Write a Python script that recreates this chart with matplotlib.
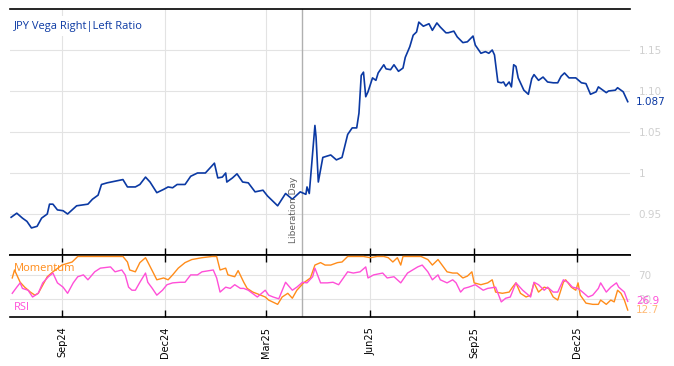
import matplotlib
matplotlib.use("Agg")
import matplotlib.pyplot as plt
import matplotlib.dates as mdates
import pandas as pd

# Main series: JPY vega right|left ratio
ratio_dates = [
    "2024-07-18", "2024-07-23", "2024-07-28", "2024-08-01", "2024-08-05", "2024-08-10",
    "2024-08-14", "2024-08-19", "2024-08-21", "2024-08-24", "2024-08-28", "2024-09-02",
    "2024-09-06", "2024-09-14", "2024-09-24", "2024-09-28", "2024-10-03", "2024-10-06",
    "2024-10-11", "2024-10-18", "2024-10-25", "2024-10-29", "2024-11-05", "2024-11-09",
    "2024-11-14", "2024-11-18", "2024-11-24", "2024-11-30", "2024-12-04", "2024-12-08",
    "2024-12-12", "2024-12-19", "2024-12-24", "2024-12-30", "2025-01-06", "2025-01-10",
    "2025-01-14", "2025-01-17", "2025-01-21", "2025-01-24", "2025-01-25", "2025-01-30",
    "2025-02-03", "2025-02-08", "2025-02-13", "2025-02-19", "2025-02-26", "2025-03-02",
    "2025-03-11", "2025-03-18", "2025-03-24", "2025-03-31", "2025-04-05", "2025-04-06",
    "2025-04-08", "2025-04-13", "2025-04-14", "2025-04-16", "2025-04-20", "2025-04-27",
    "2025-05-02", "2025-05-07", "2025-05-12", "2025-05-16", "2025-05-20", "2025-05-22",
    "2025-05-24", "2025-05-26", "2025-05-28", "2025-05-30", "2025-06-03", "2025-06-06",
    "2025-06-08", "2025-06-13", "2025-06-15", "2025-06-19", "2025-06-22", "2025-06-26",
    "2025-06-30", "2025-07-02", "2025-07-06", "2025-07-09", "2025-07-12", "2025-07-14",
    "2025-07-18", "2025-07-23", "2025-07-26", "2025-07-30", "2025-08-02", "2025-08-07",
    "2025-08-09", "2025-08-14", "2025-08-17", "2025-08-22", "2025-08-26", "2025-08-31",
    "2025-09-02", "2025-09-07", "2025-09-11", "2025-09-14", "2025-09-17", "2025-09-19",
    "2025-09-22", "2025-09-25", "2025-09-27", "2025-09-29", "2025-10-02", "2025-10-04",
    "2025-10-06", "2025-10-08", "2025-10-10", "2025-10-12", "2025-10-15", "2025-10-19",
    "2025-10-22", "2025-10-24", "2025-10-28", "2025-11-01", "2025-11-05", "2025-11-10",
    "2025-11-14", "2025-11-17", "2025-11-20", "2025-11-24", "2025-11-30", "2025-12-05",
    "2025-12-09", "2025-12-13", "2025-12-18", "2025-12-20", "2025-12-27", "2025-12-29",
    "2026-01-04", "2026-01-06", "2026-01-11", "2026-01-15",
]
ratio_values = [
    0.946, 0.951, 0.945, 0.941, 0.933, 0.935,
    0.945, 0.950, 0.962, 0.962, 0.955, 0.954,
    0.950, 0.960, 0.962, 0.968, 0.973, 0.986,
    0.988, 0.990, 0.992, 0.983, 0.983, 0.986,
    0.995, 0.989, 0.976, 0.980, 0.983, 0.982,
    0.986, 0.986, 0.996, 1.000, 1.000, 1.006,
    1.012, 0.994, 0.995, 1.000, 0.989, 0.994,
    0.999, 0.989, 0.988, 0.977, 0.979, 0.972,
    0.960, 0.975, 0.968, 0.977, 0.974, 0.983,
    0.975, 1.058, 1.044, 0.989, 1.019, 1.022,
    1.016, 1.019, 1.047, 1.055, 1.055, 1.073,
    1.119, 1.123, 1.093, 1.099, 1.116, 1.113,
    1.122, 1.132, 1.127, 1.126, 1.132, 1.124,
    1.128, 1.141, 1.154, 1.168, 1.172, 1.184,
    1.179, 1.182, 1.174, 1.183, 1.178, 1.171,
    1.171, 1.173, 1.166, 1.159, 1.160, 1.167,
    1.156, 1.146, 1.148, 1.146, 1.150, 1.144,
    1.111, 1.110, 1.111, 1.106, 1.111, 1.105,
    1.132, 1.130, 1.116, 1.110, 1.101, 1.096,
    1.115, 1.120, 1.113, 1.117, 1.111, 1.110,
    1.110, 1.118, 1.122, 1.116, 1.116, 1.110,
    1.109, 1.096, 1.099, 1.105, 1.098, 1.100,
    1.101, 1.104, 1.099, 1.087,
]

# Momentum (0-100)
mom_dates = [
    "2024-07-19", "2024-07-21", "2024-07-26", "2024-07-30", "2024-08-04", "2024-08-08",
    "2024-08-11", "2024-08-14", "2024-08-19", "2024-08-24", "2024-09-01", "2024-09-10",
    "2024-09-15", "2024-09-24", "2024-10-09", "2024-10-25", "2024-10-29", "2024-10-31",
    "2024-11-05", "2024-11-09", "2024-11-14", "2024-11-16", "2024-11-21", "2024-11-24",
    "2024-11-30", "2024-12-04", "2024-12-08", "2024-12-13", "2024-12-19", "2024-12-25",
    "2025-01-03", "2025-01-12", "2025-01-16", "2025-01-19", "2025-01-24", "2025-01-26",
    "2025-02-01", "2025-02-04", "2025-02-09", "2025-02-12", "2025-02-17", "2025-02-24",
    "2025-02-28", "2025-03-03", "2025-03-11", "2025-03-15", "2025-03-20", "2025-03-24",
    "2025-03-28", "2025-04-03", "2025-04-09", "2025-04-13", "2025-04-18", "2025-04-22",
    "2025-04-27", "2025-05-03", "2025-05-07", "2025-05-12", "2025-05-21", "2025-05-26",
    "2025-06-01", "2025-06-07", "2025-06-13", "2025-06-17", "2025-06-21", "2025-06-25",
    "2025-06-28", "2025-06-30", "2025-07-16", "2025-07-22", "2025-07-26", "2025-07-31",
    "2025-08-02", "2025-08-08", "2025-08-13", "2025-08-17", "2025-08-22", "2025-08-26",
    "2025-08-30", "2025-09-01", "2025-09-07", "2025-09-13", "2025-09-17", "2025-09-20",
    "2025-09-26", "2025-10-02", "2025-10-05", "2025-10-08", "2025-10-12", "2025-10-17",
    "2025-10-21", "2025-10-24", "2025-10-28", "2025-11-02", "2025-11-06", "2025-11-10",
    "2025-11-14", "2025-11-19", "2025-11-21", "2025-11-26", "2025-11-30", "2025-12-02",
    "2025-12-04", "2025-12-09", "2025-12-15", "2025-12-20", "2025-12-22", "2025-12-27",
    "2025-12-31", "2026-01-03", "2026-01-06", "2026-01-09", "2026-01-12", "2026-01-15",
]
mom_values = [
    65, 78, 58, 50, 42, 37,
    40, 50, 67, 75, 86, 91,
    100, 100, 100, 100, 91, 78,
    75, 90, 98, 91, 73, 62,
    65, 62, 70, 81, 90, 95,
    98, 100, 100, 78, 81, 70,
    67, 77, 58, 48, 42, 37,
    34, 29, 22, 34, 40, 32,
    45, 57, 65, 86, 90, 86,
    86, 90, 91, 100, 100, 100,
    98, 100, 100, 98, 91, 98,
    86, 100, 100, 95, 86, 95,
    90, 75, 73, 73, 65, 68,
    75, 57, 54, 57, 62, 42,
    40, 42, 50, 57, 40, 34,
    37, 57, 42, 50, 48, 34,
    29, 58, 62, 50, 45, 57,
    37, 24, 22, 22, 29, 22,
    29, 26, 45, 40, 29, 12.7,
]

# RSI (0-100)
rsi_dates = [
    "2024-07-19", "2024-07-23", "2024-07-26", "2024-07-28", "2024-08-02", "2024-08-06",
    "2024-08-11", "2024-08-15", "2024-08-20", "2024-08-24", "2024-08-28", "2024-09-02",
    "2024-09-06", "2024-09-11", "2024-09-15", "2024-09-20", "2024-09-24", "2024-09-30",
    "2024-10-05", "2024-10-14", "2024-10-18", "2024-10-24", "2024-10-27", "2024-10-30",
    "2024-11-02", "2024-11-05", "2024-11-09", "2024-11-14", "2024-11-16", "2024-11-20",
    "2024-11-24", "2024-11-29", "2024-12-03", "2024-12-08", "2024-12-15", "2024-12-19",
    "2024-12-24", "2024-12-30", "2025-01-03", "2025-01-13", "2025-01-16", "2025-01-19",
    "2025-01-24", "2025-01-28", "2025-02-01", "2025-02-06", "2025-02-09", "2025-02-13",
    "2025-02-21", "2025-02-28", "2025-03-03", "2025-03-07", "2025-03-12", "2025-03-18",
    "2025-03-24", "2025-03-28", "2025-04-02", "2025-04-06", "2025-04-11", "2025-04-13",
    "2025-04-18", "2025-04-24", "2025-04-29", "2025-05-04", "2025-05-12", "2025-05-17",
    "2025-05-23", "2025-05-28", "2025-05-30", "2025-06-04", "2025-06-12", "2025-06-16",
    "2025-06-22", "2025-06-28", "2025-07-04", "2025-07-13", "2025-07-17", "2025-07-22",
    "2025-07-26", "2025-07-31", "2025-08-02", "2025-08-08", "2025-08-13", "2025-08-16",
    "2025-08-20", "2025-08-23", "2025-08-27", "2025-09-02", "2025-09-09", "2025-09-13",
    "2025-09-20", "2025-09-25", "2025-09-29", "2025-10-03", "2025-10-08", "2025-10-14",
    "2025-10-21", "2025-10-24", "2025-10-28", "2025-11-02", "2025-11-05", "2025-11-10",
    "2025-11-14", "2025-11-19", "2025-11-23", "2025-11-27", "2025-12-02", "2025-12-06",
    "2025-12-11", "2025-12-15", "2025-12-20", "2025-12-22", "2025-12-27", "2025-12-31",
    "2026-01-05", "2026-01-07", "2026-01-12", "2026-01-15",
]
rsi_values = [
    40, 50, 57, 48, 45, 34,
    40, 57, 67, 73, 57, 50,
    40, 57, 67, 70, 62, 75,
    81, 83, 75, 78, 70, 50,
    45, 45, 58, 73, 58, 48,
    37, 45, 54, 57, 58, 58,
    70, 70, 75, 78, 65, 42,
    50, 48, 54, 48, 48, 45,
    34, 45, 37, 34, 31, 58,
    45, 50, 58, 57, 67, 81,
    57, 57, 58, 54, 75, 73,
    75, 83, 65, 70, 73, 65,
    67, 57, 73, 83, 86, 75,
    62, 70, 62, 57, 62, 57,
    42, 48, 50, 54, 45, 48,
    50, 26, 32, 34, 57, 45,
    34, 58, 54, 45, 50, 42,
    42, 62, 58, 50, 48, 42,
    34, 37, 48, 57, 42, 50,
    57, 50, 42, 26.9,
]

ratio_ticks = [0.95, 1.0, 1.05, 1.10, 1.15]
ratio_tick_labels = ["0.95", "1", "1.05", "1.10", "1.15"]
osc_ticks = [30, 70]
event_date = "2025-04-02"
event_label = "Liberation Day"
title = "JPY Vega Right|Left Ratio"

BLUE = "#0b39a3"
ORANGE = "#ff8c1a"
PINK = "#ff4fd8"
GRID = "#e3e3e3"
LABEL_GREY = "#cfcfcf"

rd = pd.to_datetime(ratio_dates)
md = pd.to_datetime(mom_dates)
sd = pd.to_datetime(rsi_dates)
ev = pd.Timestamp(event_date)
xlim = (pd.Timestamp("2024-07-17"), pd.Timestamp("2026-01-17"))

fig = plt.figure(figsize=(6.74, 3.66), dpi=100)
ax = fig.add_axes([10 / 674, 1 - 255 / 366, 620 / 674, 246 / 366])
ax2 = fig.add_axes([10 / 674, 1 - 317 / 366, 620 / 674, 62 / 366], sharex=ax)

# main panel
ax.plot(rd, ratio_values, color=BLUE, lw=1.2, zorder=3)
ax.set_ylim(0.90, 1.20)
ax.set_xlim(*xlim)
ax.set_yticks(ratio_ticks)
ax.set_yticklabels(ratio_tick_labels)
ax.yaxis.tick_right()
ax.tick_params(axis="y", length=0, labelsize=7.5, labelcolor=LABEL_GREY, pad=6)
ax.tick_params(axis="x", direction="in", length=5, width=1, labelbottom=False,
               color="black")
ax.grid(True, color=GRID, lw=0.8)
for s in ["left", "right"]:
    ax.spines[s].set_visible(False)
ax.spines["top"].set_linewidth(1.2)
ax.spines["bottom"].set_linewidth(1.2)

ax.text(0.006, 0.93, title, transform=ax.transAxes, color=BLUE, fontsize=8,
        family="Open Sans", va="center", ha="left", zorder=5,
        bbox=dict(facecolor="white", edgecolor="none", pad=3))
ax.text(1.01, ratio_values[-1], f"{ratio_values[-1]:.3f}", transform=ax.get_yaxis_transform(),
        color=BLUE, fontsize=7.5, va="center", ha="left")

ax.axvline(ev, color="#b0b0b0", lw=1, zorder=2)
ax.text(ev - pd.Timedelta(days=8), 0.915, event_label, rotation=90, fontsize=6.5,
        color="#606060", ha="center", va="bottom")

# oscillator panel
ax2.plot(md, mom_values, color=ORANGE, lw=1.0, zorder=3)
ax2.plot(sd, rsi_values, color=PINK, lw=1.0, zorder=3)
ax2.set_ylim(1.4, 102.4)
ax2.set_yticks(osc_ticks)
ax2.yaxis.tick_right()
ax2.tick_params(axis="y", length=0, labelsize=7.5, labelcolor=LABEL_GREY, pad=6)
ax2.grid(True, color=GRID, lw=0.8)
ax2.axvline(ev, color="#b0b0b0", lw=1, zorder=2)
for s in ["left", "right"]:
    ax2.spines[s].set_visible(False)
ax2.spines["top"].set_linewidth(1.2)
ax2.spines["bottom"].set_linewidth(1.2)

ax2.text(0.006, 0.78, "Momentum", transform=ax2.transAxes, color=ORANGE, fontsize=8,
         family="Open Sans", va="center", ha="left")
ax2.text(0.006, 0.16, "RSI", transform=ax2.transAxes, color=PINK, fontsize=8,
         family="Open Sans", va="center", ha="left")
ax2.text(1.01, mom_values[-1], f"{mom_values[-1]:.1f}", transform=ax2.get_yaxis_transform(),
         color=ORANGE, fontsize=7.5, va="center", ha="left", alpha=0.6)
ax2.text(1.01, rsi_values[-1], f"{rsi_values[-1]:.1f}", transform=ax2.get_yaxis_transform(),
         color=PINK, fontsize=7.5, va="center", ha="left")

ax2.xaxis.set_major_locator(mdates.MonthLocator(bymonth=[3, 6, 9, 12]))
ax2.xaxis.set_major_formatter(mdates.DateFormatter("%b%y"))
ax2.tick_params(axis="x", direction="in", length=5, width=1, top=True,
                labelsize=7, rotation=90, pad=7)
ax.xaxis.set_major_locator(mdates.MonthLocator(bymonth=[3, 6, 9, 12]))

fig.savefig("out.png", dpi=100)
